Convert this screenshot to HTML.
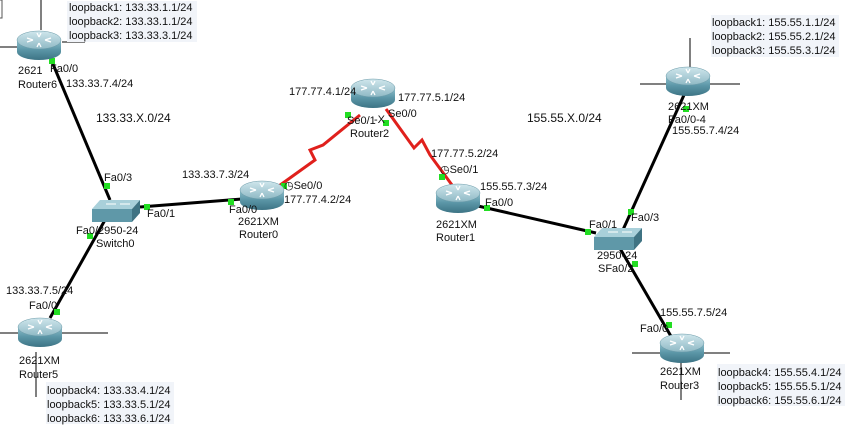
<!DOCTYPE html>
<html><head><meta charset="utf-8"><style>
body{margin:0;background:#fff;}
svg{display:block;font-family:"Liberation Sans","DejaVu Sans",sans-serif;font-size:11px;}
text{fill:#111;}
.lb{fill:#f1f4f9;}
</style></head><body>
<svg width="852" height="436" viewBox="0 0 852 436" xmlns="http://www.w3.org/2000/svg">
<defs>
<linearGradient id="rb" x1="0" y1="0" x2="0" y2="1">
<stop offset="0" stop-color="#8fc0cc"/><stop offset="0.5" stop-color="#5a95a6"/><stop offset="1" stop-color="#3d7485"/></linearGradient>
<linearGradient id="rt" x1="0" y1="0" x2="0" y2="1">
<stop offset="0" stop-color="#cfe6ec"/><stop offset="1" stop-color="#8fb9c5"/></linearGradient>
<g id="router">
<path d="M-22,-5 L-22,7 A22,8 0 0 0 22,7 L22,-5 Z" fill="url(#rb)"/>
<ellipse cx="0" cy="-5" rx="22" ry="9" fill="url(#rt)" stroke="#6a9aa8" stroke-width="0.5"/>
<path d="M-12,-7 l6,2 M-12,-3 l6,-2 M12,-7 l-6,2 M12,-3 l-6,-2 M-2,-12 l2,4 M2,-12 l-2,4 M-2,2 l2,-4 M2,2 l-2,-4" stroke="#fff" stroke-width="1.3" fill="none"/>
</g>
<g id="switch">
<path d="M-20,-3 L-12,-12 L28,-12 L20,-3 Z" fill="#a9d0da"/>
<rect x="-20" y="-3" width="40" height="13" fill="#5f98a8"/>
<path d="M20,-3 L28,-12 L28,1 L20,10 Z" fill="#3f7383"/>
<path d="M-6,-8 h10 M8,-8 h10" stroke="#fff" stroke-width="1"/>
</g>
</defs>

<g stroke="#000" stroke-width="1">
<path d="M41,0 V30 M0,47 H18 M62,42 H85"/>
<path d="M0,333 H108 M36,352 V397"/>
<path d="M690,38 V67 M640,84 H740"/>
<path d="M632,353 H730 M681,362 V400"/>
</g>
<path d="M0,0 H2 V18 H0" stroke="#555" fill="none"/>

<g stroke="#000" stroke-width="3">
<line x1="50" y1="57" x2="110" y2="200"/>
<line x1="105" y1="220" x2="50" y2="318"/>
<line x1="140" y1="207" x2="242" y2="199"/>
<line x1="478" y1="206" x2="596" y2="233"/>
<line x1="622" y1="232" x2="684" y2="95"/>
<line x1="618" y1="245" x2="672" y2="338"/>
</g>
<g stroke="#e0201c" stroke-width="3" fill="none">
<path d="M276,188 L315,160 L310,150 L323,145 L360,115"/>
<path d="M386,109 L414,148 L422,140 L430,155 L452,185"/>
</g>
<g fill="#22dd22">
<rect x="49" y="58" width="6" height="6"/>
<rect x="104" y="183" width="6" height="6"/>
<rect x="144" y="204" width="6" height="6"/>
<rect x="87" y="233" width="6" height="6"/>
<rect x="54" y="309" width="6" height="6"/>
<rect x="228" y="199" width="6" height="6"/>
<rect x="281" y="183" width="6" height="6"/>
<rect x="345" y="112" width="6" height="6"/>
<rect x="383" y="120" width="6" height="6"/>
<rect x="439" y="174" width="6" height="6"/>
<rect x="484" y="205" width="6" height="6"/>
<rect x="585" y="229" width="6" height="6"/>
<rect x="628" y="209" width="6" height="6"/>
<rect x="632" y="261" width="6" height="6"/>
<rect x="683" y="106" width="6" height="6"/>
<rect x="666" y="322" width="6" height="6"/>
</g>

<use href="#router" x="39" y="45"/>
<use href="#router" x="40" y="332"/>
<use href="#router" x="262" y="195"/>
<use href="#router" x="373" y="93"/>
<use href="#router" x="458" y="198"/>
<use href="#router" x="688" y="81"/>
<use href="#router" x="682" y="348"/>
<use href="#switch" x="112" y="212"/>
<use href="#switch" x="614" y="240"/>

<rect class="lb" x="67" y="1" width="130" height="41"/>
<rect class="lb" x="46" y="382" width="128" height="42"/>
<rect class="lb" x="711" y="15" width="128" height="42"/>
<rect class="lb" x="717" y="364" width="128" height="42"/>
<text x="69" y="11">loopback1: 133.33.1.1/24</text>
<text x="69" y="25">loopback2: 133.33.1.1/24</text>
<text x="69" y="39">loopback3: 133.33.3.1/24</text>
<text x="47" y="394">loopback4: 133.33.4.1/24</text>
<text x="47" y="408">loopback5: 133.33.5.1/24</text>
<text x="47" y="422">loopback6: 133.33.6.1/24</text>
<text x="712" y="26">loopback1: 155.55.1.1/24</text>
<text x="712" y="40">loopback2: 155.55.2.1/24</text>
<text x="712" y="54">loopback3: 155.55.3.1/24</text>
<text x="718" y="376">loopback4: 155.55.4.1/24</text>
<text x="718" y="390">loopback5: 155.55.5.1/24</text>
<text x="718" y="404">loopback6: 155.55.6.1/24</text>

<text x="18" y="74">2621</text><text x="50" y="72">Fa0/0</text>
<text x="18" y="88">Router6</text><text x="66" y="87">133.33.7.4/24</text>
<text x="96" y="122" font-size="12">133.33.X.0/24</text>
<text x="527" y="122" font-size="12">155.55.X.0/24</text>

<text x="104" y="181">Fa0/3</text>
<text x="147" y="217">Fa0/1</text>
<text x="76" y="234">Fa0/2950-24</text>
<text x="96" y="247">Switch0</text>

<text x="6" y="294">133.33.7.5/24</text>
<text x="29" y="309">Fa0/0</text>
<text x="19" y="364">2621XM</text>
<text x="19" y="378">Router5</text>

<text x="182" y="178">133.33.7.3/24</text>
<text x="229" y="213">Fa0/0</text>
<text x="238" y="225">2621XM</text>
<text x="239" y="238">Router0</text>
<text x="284" y="189">◷Se0/0</text>
<text x="284" y="203">177.77.4.2/24</text>

<text x="289" y="95">177.77.4.1/24</text>
<text x="398" y="101">177.77.5.1/24</text>
<text x="347" y="124">Se0/1</text><text x="374" y="123" fill="#5a8">-X</text>
<text x="388" y="117">Se0/0</text>
<text x="350" y="137">Router2</text>

<text x="431" y="157">177.77.5.2/24</text>
<text x="440" y="173">◷Se0/1</text>
<text x="480" y="190">155.55.7.3/24</text>
<text x="485" y="206">Fa0/0</text>
<text x="436" y="228">2621XM</text>
<text x="436" y="241">Router1</text>

<text x="589" y="228">Fa0/1</text>
<text x="631" y="221">Fa0/3</text>
<text x="597" y="259">2950-24</text>
<text x="598" y="272">SFa0/2</text>

<text x="668" y="110">2621XM</text>
<text x="668" y="123">Fa0/0-4</text>
<text x="672" y="134">155.55.7.4/24</text>

<text x="660" y="316">155.55.7.5/24</text>
<text x="640" y="332">Fa0/0</text>
<text x="660" y="375">2621XM</text>
<text x="660" y="389">Router3</text>
</svg>
</body></html>
